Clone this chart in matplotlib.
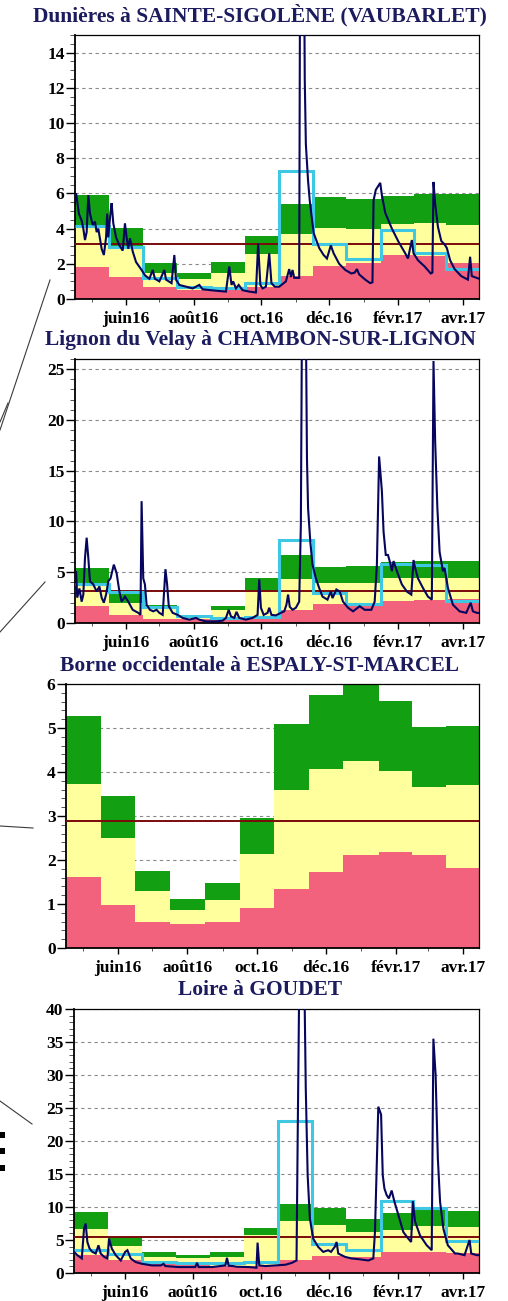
"""Débits journaliers et repères mensuels pour quatre stations de Haute-Loire (mai 2016 - avril 2017)."""
import numpy as np
import matplotlib
matplotlib.use("Agg")
import matplotlib.pyplot as plt
from matplotlib.ticker import MultipleLocator, AutoMinorLocator
from matplotlib.lines import Line2D
from matplotlib.patches import Rectangle

W, H = 508, 1301
plt.rcParams.update({
    "font.family": "Liberation Serif", "font.weight": "bold", "font.size": 12.5,
    "axes.linewidth": 1.3, "axes.edgecolor": "black",
})
PINK, YELLOW, GREEN = "#f2627c", "#ffff9e", "#12a012"
CYAN, NAVY, REF, TITLE = "#3ec8e4", "#06065e", "#7a0a0a", "#1b1b5e"

# ---- axe du temps : jours depuis le 16/04/2016, blocs mensuels centrés sur le 1er du mois ----
START, END = np.datetime64("2016-04-16"), np.datetime64("2017-04-15")
months = np.arange("2016-05", "2017-05", dtype="datetime64[M]").astype("datetime64[D]")
month_x = (months - START).astype(int)
span = int((END - START).astype(int))
edges = np.concatenate([[0], (month_x[:-1] + month_x[1:]) / 2, [span]])
month_labels = ["juin16", "août16", "oct.16", "déc.16", "févr.17", "avr.17"]

# ---- Dunières à SAINTE-SIGOLÈNE (VAUBARLET) ----
s1_pink = [1.83, 1.26, 0.66, 0.5, 0.55, 0.7, 1.3, 1.88, 2.05, 2.49, 2.45, 2.04]
s1_glo = [4.1, 2.96, 1.45, 1.12, 1.49, 2.57, 3.72, 4.05, 3.96, 4.28, 4.32, 4.19]
s1_ghi = [5.92, 4.04, 2.02, 1.47, 2.1, 3.57, 5.37, 5.77, 5.67, 5.83, 5.95, 5.95]
s1_mean = [4.15, 2.98, 1.18, 0.66, 0.62, 0.9, 7.3, 3.12, 2.25, 3.9, 2.6, 1.72]
s1_ref = 3.15
s1_day = [0, 1, 3.5, 6, 7.5, 9, 10.5, 12, 13.5, 16, 18, 19.5, 21, 24, 26, 28, 29, 30, 32, 33,
          34.5, 37, 40, 43, 45, 46.5, 48, 49.5, 52, 55, 60, 63, 67, 70, 72, 76, 80.5, 82, 87, 89.5,
          91, 94, 100, 106, 112, 115, 127, 136, 139, 141, 142.5, 145, 147.5, 151, 157, 163, 165, 167, 169, 172,
          175, 177, 180, 184, 190, 193, 194.5, 196, 197.5, 202, 203, 206, 207, 208, 210, 211.5, 213, 215, 220, 224,
          227, 230.5, 233, 238, 243.5, 249, 252, 254, 256, 261.5, 266, 268, 269, 271, 273, 275, 276.5, 279.5, 285.5, 291.5,
          297.5, 300, 303.5, 305, 309, 315, 320.5, 322, 323, 324.5, 327, 330, 333, 335, 338, 342, 348, 354, 356, 357.5,
          362, 364]
s1_q = [5.9, 6.0, 4.85, 4.45, 4.0, 3.35, 3.8, 5.9, 4.85, 4.2, 4.4, 3.8, 4.0, 2.85, 2.5, 3.5, 4.85, 3.5, 4.95, 5.45,
        4.3, 3.5, 3.05, 2.75, 4.3, 3.5, 2.85, 3.45, 2.7, 2.1, 1.65, 1.35, 1.15, 1.65, 1.15, 1.0, 1.65, 1.1, 0.9, 2.5,
        1.1, 0.8, 0.7, 0.6, 0.8, 0.55, 0.47, 0.42, 1.85, 0.8, 1.0, 0.6, 0.8, 0.5, 0.42, 0.37, 3.15, 0.8, 0.6, 0.7,
        2.6, 0.9, 0.7, 0.7, 1.0, 1.7, 1.25, 1.65, 1.2, 1.2, 24, 24, 12.5, 8.8, 6.7, 5.6, 4.8, 3.75, 2.9, 2.5,
        2.3, 3.05, 2.6, 2.0, 1.65, 1.45, 1.5, 1.7, 1.4, 1.1, 0.9, 0.95, 5.6, 6.2, 6.4, 6.6, 5.9, 4.9, 4.0, 3.25,
        2.6, 2.3, 3.35, 2.6, 2.2, 1.85, 1.45, 1.5, 6.65, 5.4, 4.1, 3.3, 3.1, 2.9, 2.2, 1.7, 1.3, 1.1, 2.4, 1.3,
        1.2, 1.15]

# ---- Lignon du Velay à CHAMBON-SUR-LIGNON ----
s2_pink = [1.64, 0.82, 0.4, 0.35, 0.45, 0.5, 1.25, 1.87, 1.75, 2.2, 2.25, 2.35]
s2_glo = [3.94, 1.97, 1.35, 0.55, 1.25, 3.18, 4.35, 3.92, 3.95, 4.4, 4.4, 4.4]
s2_ghi = [5.41, 2.95, 1.75, 0.8, 1.71, 4.43, 6.68, 5.55, 5.64, 6.05, 6.1, 6.13]
s2_mean = [3.82, 3.1, 1.62, 0.68, 0.52, 0.62, 8.2, 3.0, 1.85, 5.82, 5.75, 2.2]
s2_ref = 3.15
s2_day = [0, 1, 2, 4, 6, 7.5, 9, 10.5, 12, 13.5, 16.5, 19.5, 22, 24, 26, 28, 30, 32, 35, 37.5,
          40, 42, 45, 48, 52, 57, 59, 60, 61.5, 63, 64.5, 67.5, 70.5, 73.5, 76, 79, 81.5, 83, 84.5, 88,
          92.5, 97, 103, 109, 112, 118, 127, 133, 136, 138.5, 140.5, 143.5, 145.5, 148, 154, 160, 164.5, 166, 167.5, 170,
          173.5, 175, 177, 181, 185.5, 188.5, 190.5, 192, 193.5, 196, 199, 202, 203.5, 204.5, 208, 209, 210, 212, 214, 217,
          220, 223, 227.5, 230.5, 232, 235.5, 238.5, 241.5, 246, 250.5, 256.5, 261, 267, 270, 272, 274, 276.5, 278, 280, 282,
          284, 285.5, 287, 290, 294.5, 299, 303, 305, 306.5, 309, 313.5, 318, 321.5, 323, 324.5, 326.5, 328.5, 331.5, 333, 336,
          340.5, 346.5, 352.5, 356.5, 358.5, 362, 364]
s2_q = [4.4, 5.1, 2.5, 3.4, 2.1, 2.8, 6.4, 8.4, 6.4, 4.1, 3.8, 3.1, 3.6, 2.5, 2.0, 2.8, 4.1, 4.4, 5.75, 4.9,
        3.1, 2.1, 2.6, 2.1, 1.3, 1.0, 0.8, 12.0, 4.4, 3.8, 1.8, 1.3, 1.15, 1.3, 1.0, 0.8, 5.3, 3.8, 1.65, 1.0,
        0.8, 0.5, 0.33, 0.5, 0.33, 0.16, 0.16, 0.23, 0.5, 1.3, 0.65, 0.5, 1.1, 0.5, 0.33, 0.5, 0.8, 4.3, 1.5, 0.8,
        1.0, 1.5, 0.8, 0.75, 1.0, 1.15, 1.8, 2.8, 1.6, 1.3, 1.5, 2.1, 9.7, 30, 30, 16.2, 11.3, 8.0, 5.75, 4.4,
        3.45, 2.6, 2.3, 3.1, 2.45, 3.3, 3.1, 2.1, 1.5, 1.15, 1.65, 1.3, 1.3, 2.1, 5.75, 16.4, 13.0, 9.0, 6.7, 6.7,
        5.9, 5.1, 6.1, 5.1, 3.8, 3.1, 2.8, 6.2, 5.4, 4.4, 3.45, 2.6, 2.3, 25.8, 17.9, 11.3, 7.0, 5.1, 5.4, 3.45,
        1.8, 1.15, 1.0, 2.0, 1.15, 1.0, 1.0]

# ---- Borne occidentale à ESPALY-ST-MARCEL (repères seuls) ----
s3_pink = [1.61, 0.98, 0.6, 0.55, 0.58, 0.91, 1.33, 1.72, 2.11, 2.18, 2.11, 1.82]
s3_glo = [3.73, 2.5, 1.3, 0.86, 1.1, 2.14, 3.6, 4.07, 4.24, 4.03, 3.67, 3.7]
s3_ghi = [5.27, 3.45, 1.76, 1.11, 1.48, 2.95, 5.08, 5.74, 6.05, 5.62, 5.03, 5.05]
s3_ref = 2.89

# ---- Loire à GOUDET ----
s4_pink = [2.68, 1.97, 1.46, 1.21, 1.1, 1.1, 1.92, 2.6, 2.45, 3.15, 3.15, 3.05]
s4_glo = [6.73, 4.09, 2.47, 2.22, 2.37, 5.76, 7.95, 7.25, 6.2, 6.5, 7.07, 6.9]
s4_ghi = [9.27, 5.4, 3.23, 2.73, 3.23, 6.87, 10.48, 9.9, 8.17, 9.02, 9.53, 9.42]
s4_mean = [3.44, 2.9, 1.72, 1.45, 1.46, 1.6, 23.0, 4.35, 3.5, 10.85, 9.85, 4.85]
s4_ref = 5.4
s4_day = [0, 3, 7, 9, 10.5, 12, 14, 16.5, 19.5, 22, 24, 27, 30, 31.5, 34, 37.5, 42, 46, 48, 51,
          55.5, 61, 70, 78, 80.5, 82, 94, 109, 110.5, 112, 124, 136, 137.5, 139, 143, 146, 157, 164, 165, 166.5,
          172, 181, 190, 196, 200, 201, 202.5, 207, 208.3, 210, 212, 215, 219.5, 224, 228.5, 231, 234.5, 236, 237.5, 243.5,
          249.5, 255.5, 264.5, 269, 270.5, 273.5, 276, 277.5, 279, 281, 283, 285.5, 288, 291.5, 296, 300.5, 303, 304.5, 306.5, 311,
          317, 321.5, 323, 325, 327, 329, 332, 336, 342.5, 345, 351, 355.5, 357, 362, 364]
s4_q = [3.2, 2.7, 2.2, 6.7, 7.5, 4.7, 3.7, 3.2, 2.95, 4.2, 2.95, 2.45, 2.2, 5.2, 3.7, 2.7, 1.9, 3.2, 3.45, 2.2,
        1.65, 1.4, 1.15, 1.15, 1.4, 1.05, 0.9, 0.9, 1.55, 0.9, 0.9, 1.15, 2.3, 1.1, 1.05, 0.95, 0.9, 0.8, 4.6, 1.15,
        1.05, 1.15, 1.25, 1.55, 1.9, 19.9, 45, 45, 28, 14.8, 8.25, 5.2, 3.95, 3.2, 3.45, 3.2, 4.0, 4.7, 2.95, 2.45,
        2.2, 2.1, 1.9, 2.2, 6.2, 25.2, 24, 14.8, 12.8, 11.8, 11.3, 12.5, 10.8, 8.8, 6.2, 5.2, 4.7, 10.9, 7.8, 5.7,
        4.2, 3.45, 35.5, 30, 17.4, 10.8, 6.7, 4.2, 2.95, 2.95, 2.7, 5.0, 2.95, 2.7, 2.7]

fig = plt.figure(figsize=(W / 100, H / 100), dpi=100)


def panel(box, title, title_y, ymax, ystep, nminor, pink, g_lo, g_hi, ref, mean=None, day=None, q=None):
    l, t, r, b = box  # pixel box of the plotting area
    ax = fig.add_axes([l / W, 1 - b / H, (r - l) / W, (b - t) / H])
    pink, g_lo, g_hi = np.array(pink), np.array(g_lo), np.array(g_hi)
    ax.stairs(pink, edges, baseline=0, fill=True, color=PINK, lw=0, zorder=2)
    ax.stairs(g_lo, edges, baseline=pink, fill=True, color=YELLOW, lw=0, zorder=2)
    ax.stairs(g_hi, edges, baseline=g_lo, fill=True, color=GREEN, lw=0, zorder=2)
    ax.axhline(ref, color=REF, lw=1.4, zorder=3)
    if mean is not None:
        ax.stairs(mean, edges, baseline=None, color=CYAN, lw=2.2, zorder=4)
    if day is not None:
        ax.plot(day, q, color=NAVY, lw=1.5, zorder=5, solid_joinstyle="miter")
    ax.set_xlim(0, span)
    ax.set_ylim(0, ymax)
    ax.yaxis.set_major_locator(MultipleLocator(ystep))
    ax.yaxis.set_minor_locator(AutoMinorLocator(nminor))
    ax.yaxis.grid(True, ls=(0, (3, 3)), color="#8a8a8a", lw=0.8)
    ax.set_axisbelow(True)
    ax.set_xticks(month_x[1::2])
    ax.set_xticklabels(month_labels)
    ax.set_xticks(month_x[0::2], minor=True)
    ax.tick_params(axis="y", which="major", length=6.5, width=1, pad=1)
    ax.tick_params(axis="y", which="minor", length=3.5, width=0.7, color="#555")
    ax.tick_params(axis="x", which="major", length=4.5, width=1, pad=4)
    ax.tick_params(axis="x", which="minor", length=2.5, width=0.7, color="#555")
    for s in ("top", "right"):
        ax.spines[s].set_linewidth(0.9)
    fig.text(260 / W, 1 - title_y / H, title, ha="center", va="center", color=TITLE, fontsize=15.5,
             fontweight="bold")
    return ax


panel((75, 35, 479, 299), "Dunières à SAINTE-SIGOLÈNE (VAUBARLET)", 15, 15, 2, 4,
      s1_pink, s1_glo, s1_ghi, s1_ref, s1_mean, s1_day, s1_q)
panel((75, 359, 479, 623), "Lignon du Velay à CHAMBON-SUR-LIGNON", 340, 26, 5, 5,
      s2_pink, s2_glo, s2_ghi, s2_ref, s2_mean, s2_day, s2_q)
panel((66, 684, 479, 948), "Borne occidentale à ESPALY-ST-MARCEL", 666, 6, 1, 5,
      s3_pink, s3_glo, s3_ghi, s3_ref)
panel((74, 1009, 479, 1273), "Loire à GOUDET", 990, 40, 5, 5,
      s4_pink, s4_glo, s4_ghi, s4_ref, s4_mean, s4_day, s4_q)

# traits de rappel vers la carte (bord gauche)
for (x0, y0), (x1, y1) in [((50, 280), (0, 430)), ((8, 403), (0, 422)), ((45, 582), (0, 632)),
                           ((0, 826), (33, 828)), ((0, 1101), (32, 1124))]:
    fig.add_artist(Line2D([x0 / W, x1 / W], [1 - y0 / H, 1 - y1 / H], color="#3a3a3a", lw=0.8))
for yc in (1135, 1151, 1168):
    fig.add_artist(Rectangle((0, 1 - (yc + 3) / H), 4.5 / W, 6 / H, color="black", lw=0))

fig.savefig("out.png", dpi=100)
